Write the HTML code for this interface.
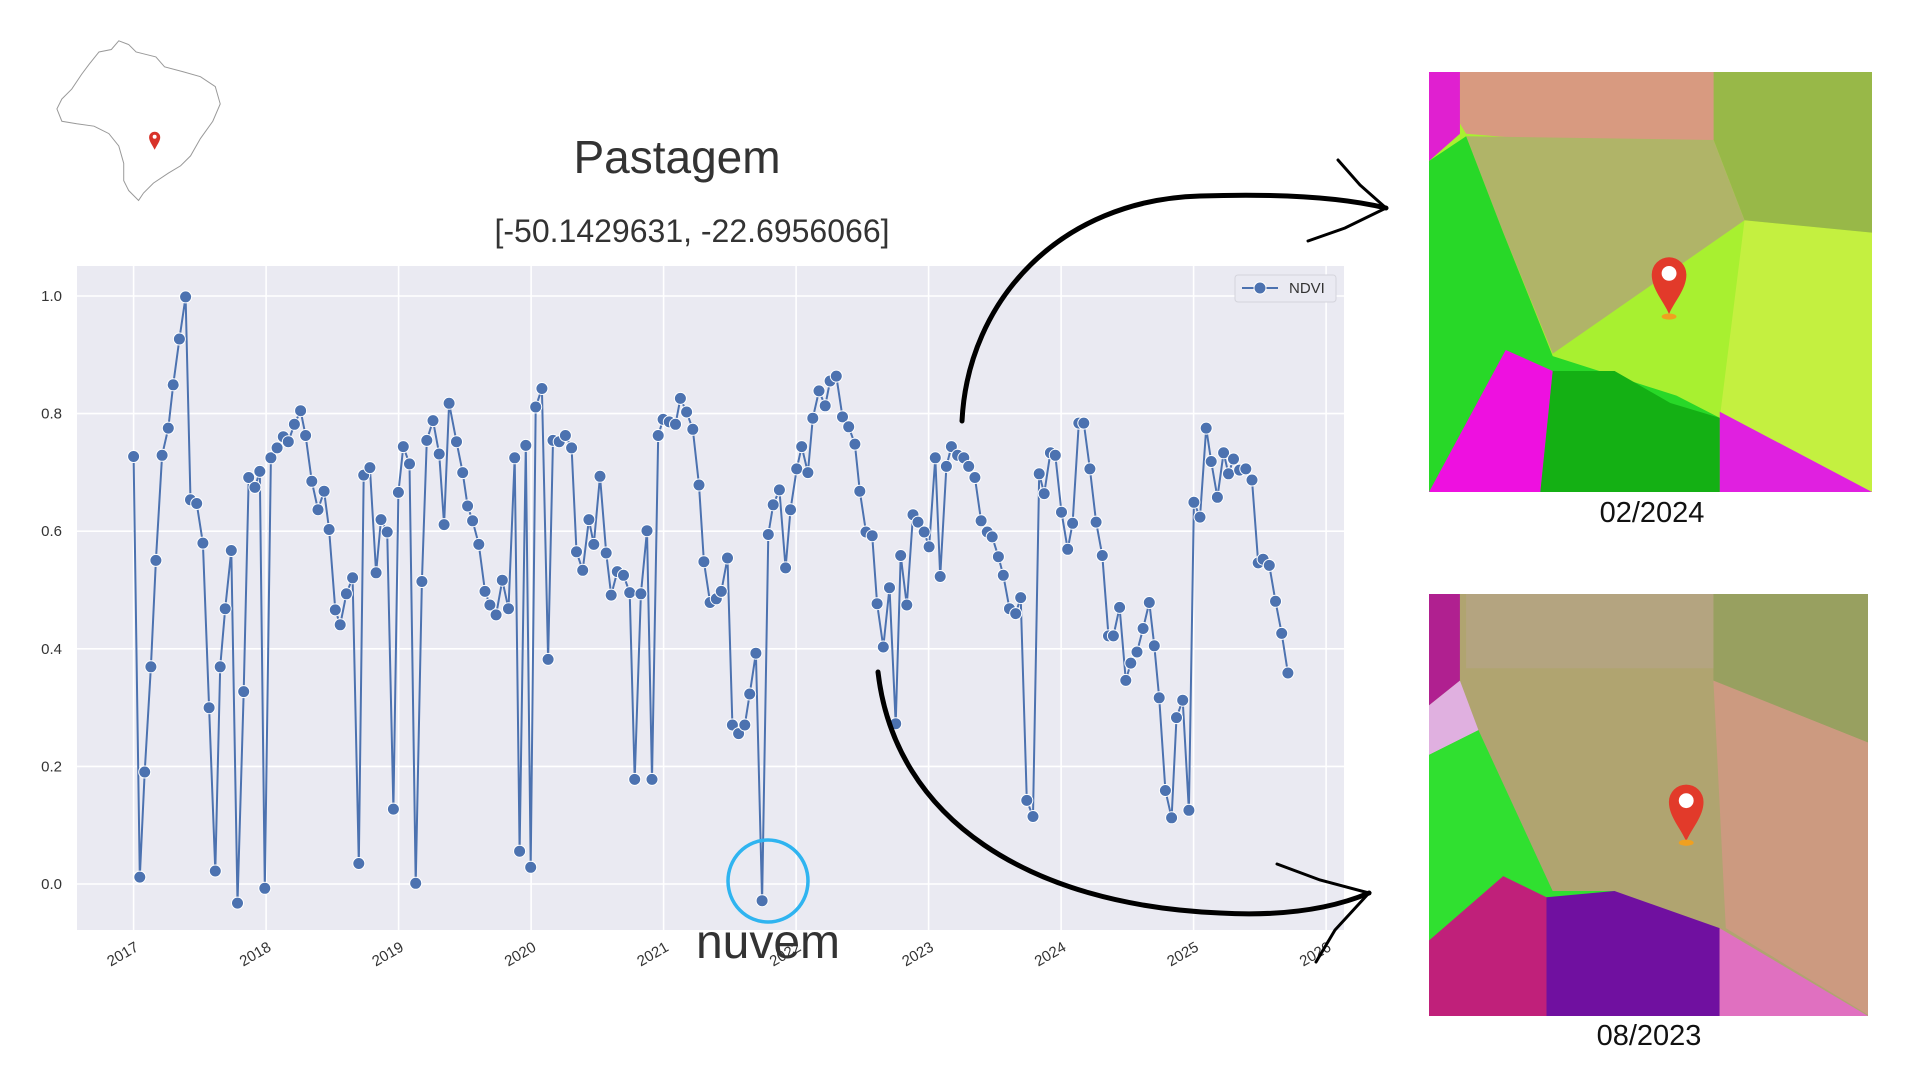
<!DOCTYPE html>
<html><head><meta charset="utf-8"><style>
html,body{margin:0;padding:0;background:#fff;width:1920px;height:1080px;overflow:hidden}
svg{display:block}
text{font-family:"Liberation Sans",sans-serif}
</style></head><body>
<svg id="s" width="1920" height="1080" viewBox="0 0 1920 1080" xmlns="http://www.w3.org/2000/svg">
<rect width="1920" height="1080" fill="#fff"/>
<!-- Brazil map -->
<g transform="scale(1.2372)">
<path d="M50,80 L58,72 L66,60 L72,52 L80,42 L90,40 L96,33 L104,36 L110,42 L118,44 L126,46 L133,54 L148,58 L162,62 L174,70 L178,84 L172,98 L162,112 L154,126 L146,134 L136,140 L124,148 L116,156 L112,162 L104,154 L100,146 L100,132 L96,118 L88,108 L76,102 L62,100 L50,98 L46,88 Z" fill="#fff" stroke="#999" stroke-width="0.8"/>
<path d="M125,121 C123,117 120.5,114 120.5,111 A4.5,4.5 0 1,1 129.5,111 C129.5,114 127,117 125,121 Z" fill="#d8332a"/>
<circle cx="125" cy="110.5" r="1.6" fill="#fff"/>
</g>
<text x="677" y="173" text-anchor="middle" font-size="46" fill="#333">Pastagem</text>
<text x="692" y="242" text-anchor="middle" font-size="32" fill="#333">[-50.1429631, -22.6956066]</text>
<!-- plot area -->
<rect x="77" y="266" width="1267" height="664" fill="#eaeaf2"/>
<g id="grid" stroke="#fff" stroke-width="1.6"></g>
<g id="ylab" font-size="15" fill="#333" text-anchor="end"></g>
<g id="xlab" font-size="15" fill="#333" text-anchor="end"></g>
<polyline id="line" fill="none" stroke="#4c72b0" stroke-width="2"/>
<g id="marks" fill="#4c72b0" stroke="#fff" stroke-width="1"></g>
<!-- legend -->
<rect x="1235" y="275" width="101" height="27" rx="3" fill="#eaeaf2" stroke="#d4d4dc"/>
<line x1="1242" y1="288" x2="1278" y2="288" stroke="#4c72b0" stroke-width="2"/>
<circle cx="1260" cy="288" r="6" fill="#4c72b0" stroke="#fff"/>
<text x="1289" y="293" font-size="15" fill="#333">NDVI</text>
<!-- cloud -->
<ellipse cx="768" cy="881" rx="40" ry="41" fill="none" stroke="#2fb4f0" stroke-width="3.5"/>
<text x="768" y="958" text-anchor="middle" font-size="48" fill="#333">nuvem</text>
<!-- arrows -->
<g fill="none" stroke="#000" stroke-linecap="round">
<path d="M962,421 C968,300 1060,200 1200,196 Q1320,192 1386,208" stroke-width="5"/>
<path d="M1338,160 L1360,185 L1386,208 L1345,228 L1308,241" stroke-width="3"/>
<path d="M878,672 C895,820 1030,905 1220,913 Q1310,918 1369,893" stroke-width="5"/>
<path d="M1277,864 L1320,880 L1369,893 L1335,930 L1316,962" stroke-width="3"/>
</g>
<!-- top image -->
<svg x="1429" y="72" width="443" height="420" viewBox="0 0 358 340" preserveAspectRatio="none">
<rect width="358" height="340" fill="#a8f030"/>
<polygon points="255,120 358,130 358,340 235,280" fill="#c4f040"/>
<polygon points="0,0 358,0 358,30 250,20 230,55 90,55 30,50" fill="#d89a80"/>
<polygon points="230,0 358,0 358,130 255,120 230,55" fill="#98b848"/>
<polygon points="30,52 230,55 255,120 100,228 60,130" fill="#b0b468"/>
<polygon points="0,0 25,0 25,50 0,72" fill="#e020d0"/>
<polygon points="0,72 30,52 60,130 100,230 200,262 235,280 235,340 0,340" fill="#28d828"/>
<polygon points="0,340 62,225 100,242 90,340" fill="#ee10e0"/>
<polygon points="100,242 150,242 195,268 235,280 235,340 90,340" fill="#14b014"/>
<polygon points="235,275 358,340 235,340" fill="#e020e0"/>
<path d="M194,196 C190,186 180,176 180,164 A14,14 0 1,1 208,164 C208,176 198,186 194,196 Z" fill="#e23a2a"/>
<circle cx="194" cy="163" r="6" fill="#fff"/>
<ellipse cx="194" cy="198" rx="6" ry="2.5" fill="#f0a020"/>
</svg>
<text x="1652" y="522" text-anchor="middle" font-size="29" fill="#111">02/2024</text>
<!-- bottom image -->
<svg x="1429" y="594" width="439" height="422" viewBox="0 0 355 341" preserveAspectRatio="none">
<rect width="355" height="341" fill="#b0a470"/>
<polygon points="230,0 355,0 355,120 230,70" fill="#98a060"/>
<polygon points="230,70 355,120 355,340 240,270" fill="#cc9a80"/>
<polygon points="30,0 230,0 230,60 30,60" fill="#b4a480"/>
<polygon points="0,0 25,0 25,70 0,90" fill="#b02090"/>
<polygon points="0,90 25,70 40,110 0,130" fill="#e0b0e0"/>
<polygon points="0,130 40,110 100,240 150,240 190,262 0,300" fill="#30e030"/>
<polygon points="0,341 0,280 60,228 95,245 95,341" fill="#c0207a"/>
<polygon points="95,245 150,240 235,270 235,341 95,341" fill="#7010a0"/>
<polygon points="235,270 355,341 235,341" fill="#e070c0"/>
<path d="M208,200 C204,190 194,180 194,168 A14,14 0 1,1 222,168 C222,180 212,190 208,200 Z" fill="#e23a2a"/>
<circle cx="208" cy="167" r="6" fill="#fff"/>
<ellipse cx="208" cy="201" rx="6" ry="2.5" fill="#f0a020"/>
</svg>
<text x="1649" y="1045" text-anchor="middle" font-size="29" fill="#111">08/2023</text>
</svg>
<script>
var NS="http://www.w3.org/2000/svg";
function el(t,a,p){var e=document.createElementNS(NS,t);for(var k in a)e.setAttribute(k,a[k]);document.getElementById(p).appendChild(e);return e;}
for(var v=0;v<=1.001;v+=0.2){var y=884-v*588;el("line",{x1:77,x2:1344,y1:y,y2:y},"grid");var t=el("text",{x:62,y:y+5},"ylab");t.textContent=v.toFixed(1);}
for(var yr=2017;yr<=2026;yr++){var x=133.6+(yr-2017)*132.5;el("line",{x1:x,x2:x,y1:266,y2:930},"grid");var t=el("text",{x:x+6,y:950,transform:"rotate(-30 "+(x+6)+" 950)"},"xlab");t.textContent=yr;}
var d=[108,369,113,709,117,624,122,539,126,453,131,368,136,346,140,311,145,274,150,240,154,404,159,407,164,439,169,572,174,704,178,539,182,492,187,445,192,730,197,559,201,386,206,394,210,381,214,718,219,370,224,362,229,353,233,357,238,343,243,332,247,352,252,389,257,412,262,397,266,428,271,493,275,505,280,480,285,467,290,698,294,384,299,378,304,463,308,420,313,430,318,654,322,398,326,361,331,375,336,714,341,470,345,356,350,340,355,367,359,424,363,326,369,357,374,382,378,409,382,421,387,440,392,478,396,489,401,497,406,469,411,492,416,370,420,688,425,360,429,701,433,329,438,314,443,533,447,356,452,357,457,352,462,362,466,446,471,461,476,420,480,440,485,385,490,447,494,481,499,462,504,465,509,479,513,630,518,480,523,429,527,630,532,352,536,339,541,341,546,343,550,322,555,333,560,347,565,392,569,454,574,487,579,484,583,478,588,451,592,586,597,593,602,586,606,561,611,528,616,728,621,432,625,408,630,396,635,459,639,412,644,379,648,361,653,382,657,338,662,316,667,328,671,308,676,304,681,337,686,345,691,359,695,397,700,430,705,433,709,488,714,523,719,475,724,585,728,449,733,489,738,416,742,422,747,430,751,442,756,370,760,466,765,377,769,361,774,368,779,370,783,377,788,386,793,421,798,430,802,434,807,450,811,465,816,492,821,496,825,483,830,647,835,660,840,383,844,399,849,366,853,368,858,414,863,444,867,423,872,342,876,342,881,379,886,422,891,449,896,514,900,514,905,491,910,550,914,536,919,527,924,508,929,487,933,522,937,564,942,639,947,661,951,580,956,566,961,655,965,406,970,418,975,346,979,373,984,402,989,366,993,383,997,371,1002,380,1007,379,1012,388,1017,455,1021,452,1026,457,1031,486,1036,512,1041,544];
var s=1/0.8083,pts=[];
for(var i=0;i<d.length;i+=2){var x=(d[i]*s).toFixed(1),y=(d[i+1]*s).toFixed(1);pts.push(x+","+y);el("circle",{cx:x,cy:y,r:6},"marks");}
document.getElementById("line").setAttribute("points",pts.join(" "));
</script>
</body></html>
